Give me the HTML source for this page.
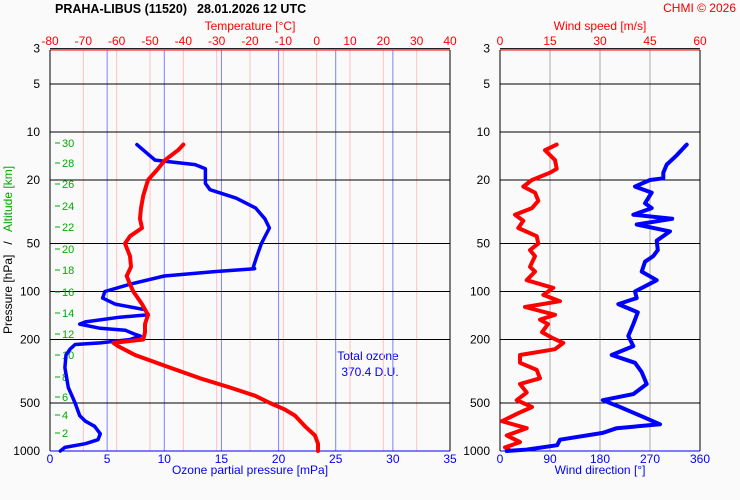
<!DOCTYPE html>
<html><head><meta charset="utf-8"><style>
body{margin:0;background:#fafafa;}
svg{display:block;font-family:"Liberation Sans",sans-serif;font-size:12px;}
</style></head><body>
<svg id="c" width="740" height="500">
<text x="55" y="13" font-weight="bold" font-size="12.5">PRAHA-LIBUS (11520)</text>
<text x="197" y="13" font-weight="bold" font-size="12.5">28.01.2026 12 UTC</text>
<text x="736" y="12" text-anchor="end" fill="#e00">CHMI © 2026</text>
<text x="250" y="30" text-anchor="middle" fill="#f00">Temperature [°C]</text>
<text x="600" y="30" text-anchor="middle" fill="#f00">Wind speed [m/s]</text>
<text x="250" y="474" text-anchor="middle" fill="#00f">Ozone partial pressure [mPa]</text>
<text x="600" y="474" text-anchor="middle" fill="#00f">Wind direction [°]</text>
<text transform="translate(12,250) rotate(-90)" text-anchor="middle" style="white-space:pre">Pressure [hPa]   /   <tspan fill="#0a0">Altitude [km]</tspan></text>
<text x="368" y="360" text-anchor="middle" fill="#00f">Total ozone</text>
<text x="370" y="376" text-anchor="middle" fill="#00f">370.4 D.U.</text>
<g id="g"></g>
</svg>
<script>
const pLevels=[3,5,10,20,50,100,200,500,1000];
const tTicks=[-80,-70,-60,-50,-40,-30,-20,-10,0,10,20,30,40];
const oTicks=[0,5,10,15,20,25,30,35];
const vTicks=[0,15,30,45,60];
const dTicks=[0,90,180,270,360];
const altKm=[2,4,6,8,10,12,14,16,18,20,22,24,26,28,30];
const altY=[433,415,397,377,355,334,313,292,270,249,227,206,184,163,143];
const tP=[12,13,15,17,20,25,30,35,40,45,50,60,70,80,90,100,120,140,160,180,200,210,220,250,300,350,400,450,500,550,600,700,800,900,1000];
const tV=[-40,-41.6,-45.5,-47.6,-50.6,-52,-52.7,-53,-52.4,-56,-57.5,-56,-55.7,-57,-56,-55,-52.4,-50.6,-51.5,-51.5,-52,-61,-59.6,-54.5,-44,-35,-26,-18.5,-14,-9.5,-6.5,-3.5,-0.5,0.4,0.4];
const oP=[12,14,15,16,17,19,21,23,26,30,35,40,50,60,70,72,75,80,90,100,110,120,130,140,145,155,160,170,175,185,190,200,210,215,230,250,300,400,500,600,650,700,780,850,900,950,1000];
const oV=[7.6,8.7,9.2,12.7,13.6,13.6,13.6,14,16.3,18,18.8,19.2,18.5,18.1,17.8,17.9,14.4,10,7,4.8,4.6,5.7,8.3,8.6,6.1,3.1,2.6,4.4,6.6,7.4,7.9,7,4.4,2.2,1.75,1.4,1.3,1.6,2.2,2.6,3.1,3.9,4.4,4.2,3.1,1.3,0.9];
const vP=[12,13,15,17,18,20,22,24,27,30,33,36,40,45,50,55,60,70,75,85,95,105,115,125,140,150,160,180,195,210,230,250,280,310,350,380,430,480,530,580,650,720,800,880,950,990];
const vV=[17,13.5,16.5,17,15,9.6,7,10.5,11.5,9.6,4.5,7,5.5,11,11.5,9,10.5,9,10.5,8,16,13,18,7.5,16.5,12,14.4,12.6,15.6,19,16.5,6,6,11,12,6,8,5,9.6,5.4,0.6,8,2,6,1.5,3];
const dP=[12,14,16,18,19.5,20,22,24,28,30,33,35,38,42,48,55,60,65,75,85,100,110,120,135,160,190,220,250,280,320,380,440,480,530,600,680,720,770,850,920,980,1000];
const dV=[336,318,300,294,294,270,243,273,261,273,240,310,246,306,282,284,276,261,255,282,243,246,213,248,240,231,240,201,243,255,264,240,185,216,252,288,210,185,108,103,48,12];
const NS="http://www.w3.org/2000/svg";
const g=document.getElementById('g');
function yP(p){return 451-159.5*Math.log10(1000/p);}
function xT(t){return 50+(t+80)*400/120;}
function xO(o){return 50+o*400/35;}
function xV(v){return 500+v*200/60;}
function xD(d){return 500+d*200/360;}
function el(tag,a,txt){const e=document.createElementNS(NS,tag);for(const k in a)e.setAttribute(k,a[k]);if(txt!==undefined)e.textContent=txt;g.appendChild(e);return e;}
tTicks.forEach(t=>{if(t>-80&&t<40){const l=el('line',{x1:xT(t),x2:xT(t),y1:50,y2:451,stroke:'#ffc0c0'});

}
const tx=el('text',{x:xT(t),y:45,'text-anchor':'middle',fill:'#f00'},String(t));

});
oTicks.forEach(o=>{if(o>0&&o<35){const l=el('line',{x1:xO(o),x2:xO(o),y1:50,y2:451,stroke:'#8080ff'});

}
const tx=el('text',{x:xO(o),y:463,'text-anchor':'middle',fill:'#00f'},String(o));

});
vTicks.forEach(v=>{const tx=el('text',{x:xV(v),y:45,'text-anchor':'middle',fill:'#f00'},String(v));

});
dTicks.forEach(d=>{if(d>0&&d<360){const l=el('line',{x1:xD(d),x2:xD(d),y1:50,y2:451,stroke:'#aaa'});

}
const tx=el('text',{x:xD(d),y:463,'text-anchor':'middle',fill:'#00f'},String(d));

});
pLevels.forEach(p=>{[[50,450,40],[500,700,490]].forEach(r=>{
const l=el('line',{x1:r[0],x2:r[1],y1:yP(p),y2:yP(p),stroke:'#000'});


const tx=el('text',{x:r[2],y:yP(p)+4,'text-anchor':'end'},String(p));

});});
altKm.forEach((k,i)=>{const l=el('line',{x1:55,x2:60,y1:altY[i],y2:altY[i],stroke:'#0a0'});


const tx=el('text',{x:62,y:altY[i]+4,fill:'#0a0','font-size':'11'},String(k));

});
[[50,450],[500,700]].forEach(r=>{
const a=el('line',{x1:r[0],x2:r[1],y1:50,y2:50,stroke:'#f00'});
const b=el('line',{x1:r[0],x2:r[1],y1:451,y2:451,stroke:'#00f'});
const c=el('line',{x1:r[0],x2:r[0],y1:50,y2:451,stroke:'#000'});
const d=el('line',{x1:r[1],x2:r[1],y1:50,y2:451,stroke:'#000'});});
function line(P,V,fx,col,w,name){const pts=P.map((p,i)=>fx(V[i]).toFixed(1)+','+yP(p).toFixed(1)).join(' ');
const e=el('polyline',{points:pts,fill:'none',stroke:col,'stroke-width':w,'stroke-linejoin':'round','stroke-linecap':'round'});

}
line(oP,oV,xO,'#00f',3.5,'ozone-profile');
line(tP,tV,xT,'#f00',4,'temperature-profile');
line(vP,vV,xV,'#f00',4,'wind-speed-profile');
line(dP,dV,xD,'#00f',4,'wind-direction-profile');
</script>
</body></html>
